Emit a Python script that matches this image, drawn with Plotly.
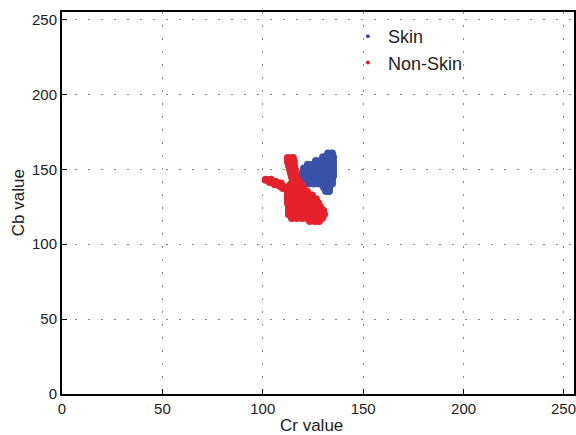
import plotly.graph_objects as go

# Skin cluster (Cr, Cb)
skin_cr = [132.5, 134.5,
           130, 132.5, 135,
           126.5, 129, 131.5, 134, 135,
           122.5, 125, 127.5, 130, 132.5, 135,
           120.5, 123, 125.5, 128, 130.5, 133, 135,
           120, 122.5, 125, 127.5, 130, 132.5, 135,
           120, 122.5, 125, 127.5, 130, 132.5, 135,
           120.5, 123, 125.5, 128, 130.5, 133, 134.5,
           123, 125.5, 128, 130.5, 133, 134.5,
           130.5, 133,
           131.5, 133]
skin_cb = [160.5, 160.5,
           158, 158, 158,
           155.5, 155.5, 155.5, 155.5, 155.5,
           153, 153, 153, 153, 153, 153,
           150.5, 150.5, 150.5, 150.5, 150.5, 150.5, 150.5,
           148, 148, 148, 148, 148, 148, 148,
           145.5, 145.5, 145.5, 145.5, 145.5, 145.5, 145.5,
           143, 143, 143, 143, 143, 143, 143,
           140.5, 140.5, 140.5, 140.5, 140.5, 140.5,
           138, 138,
           135.5, 135.5]

# Non-skin cluster (Cr, Cb)
nonskin_cr = [112.5, 115,
              112.5, 115.5,
              113, 115.5,
              113.5, 116,
              114, 116,
              114.5, 116.5,
              101.5, 103.5, 106, 108.5, 111,
              104, 106.5, 109,
              115, 117.5,
              114, 116.5, 119,
              110, 112.5, 115, 117.5, 120,
              112.5, 115, 117.5, 120, 122,
              112.5, 115, 117.5, 120, 122.5, 124.5,
              112.5, 115, 117.5, 120, 122.5, 125, 126.5,
              112.5, 115, 117.5, 120, 122.5, 125, 127.5,
              113, 115.5, 118, 120.5, 123, 125.5, 128.5,
              113, 115.5, 118, 120.5, 123, 125.5, 128, 130,
              113, 115.5, 118, 120.5, 123, 125.5, 128, 130.5,
              114.5, 117, 119.5, 122, 124.5, 127, 129.5,
              123.5, 126, 128]
nonskin_cb = [157.5, 157.5,
              155, 155,
              152.5, 152.5,
              150, 150,
              147.5, 147.5,
              145, 145,
              143, 141.5, 140, 139, 138,
              143, 141.5, 140.5,
              142.5, 142.5,
              140, 140, 140,
              137.5, 137.5, 137.5, 137.5, 137.5,
              135, 135, 135, 135, 135,
              132.5, 132.5, 132.5, 132.5, 132.5, 132.5,
              130, 130, 130, 130, 130, 130, 130,
              127.5, 127.5, 127.5, 127.5, 127.5, 127.5, 127.5,
              125, 125, 125, 125, 125, 125, 125,
              122.5, 122.5, 122.5, 122.5, 122.5, 122.5, 122.5, 122.5,
              120, 120, 120, 120, 120, 120, 120, 120,
              117.5, 117.5, 117.5, 117.5, 117.5, 117.5, 117.5,
              115.5, 115.5, 115.5]

tick_vals = [0, 50, 100, 150, 200, 250]
tick_text = ["0", "50", "100", "150", "200", "250"]

BLUE = "#3A52A8"
RED = "#E5222B"
FONT = "Liberation Sans, Arial, sans-serif"

fig = go.Figure()
fig.add_trace(go.Scatter(x=skin_cr, y=skin_cb, mode="markers", name="Skin",
                         marker=dict(color=BLUE, size=8, line=dict(width=0)),
                         showlegend=False))
fig.add_trace(go.Scatter(x=nonskin_cr, y=nonskin_cb, mode="markers", name="Non-Skin",
                         marker=dict(color=RED, size=8, line=dict(width=0)),
                         showlegend=False))
# legend entries with small dots
fig.add_trace(go.Scatter(x=[None], y=[None], mode="markers", name="Skin",
                         marker=dict(color=BLUE, size=4)))
fig.add_trace(go.Scatter(x=[None], y=[None], mode="markers", name="Non-Skin",
                         marker=dict(color=RED, size=4)))

axis_common = dict(
    range=[0, 255], tickvals=tick_vals, ticktext=tick_text,
    showgrid=True, gridcolor="#8a8a8a", gridwidth=1, griddash="2px,11px",
    showline=True, linecolor="black", linewidth=2, mirror=True,
    ticks="inside", ticklen=5, tickcolor="black",
    tickfont=dict(family=FONT, size=15, color="#222"),
    zeroline=False, fixedrange=True,
)
fig.update_xaxes(**axis_common)
fig.update_yaxes(**axis_common)

pw = 576 - 62
ph = 435 - 12 - 41

fig.update_layout(
    width=576, height=435,
    margin=dict(l=62, r=0, t=12, b=41),
    plot_bgcolor="white", paper_bgcolor="white",
    font=dict(family=FONT, color="#222"),
    showlegend=True,
    legend=dict(x=(349 - 62) / pw, y=1 - (18 - 12) / ph, xanchor="left", yanchor="top",
                bgcolor="rgba(0,0,0,0)", borderwidth=0,
                font=dict(family=FONT, size=18, color="#222"),
                itemwidth=30, tracegroupgap=0),
    annotations=[
        dict(text="Cr value", x=(312 - 62) / pw, y=-(425 - 394) / ph,
             xref="paper", yref="paper", xanchor="center", yanchor="middle",
             showarrow=False, font=dict(family=FONT, size=17, color="#222")),
        dict(text="Cb value", x=-(62 - 18) / pw, y=0.5, textangle=-90,
             xref="paper", yref="paper", xanchor="center", yanchor="middle",
             showarrow=False, font=dict(family=FONT, size=17, color="#222")),
        # last x tick label, partly beyond the right edge as in the reference
        dict(text=tick_text[-1], x=tick_vals[-1], y=-(408 - 394) / ph,
             xref="x", yref="paper", xanchor="center", yanchor="middle",
             showarrow=False, font=dict(family=FONT, size=15, color="#222")),
    ],
)

fig.write_html("out.html", config={"displayModeBar": False},
               post_script="document.body.style.margin='0';")
